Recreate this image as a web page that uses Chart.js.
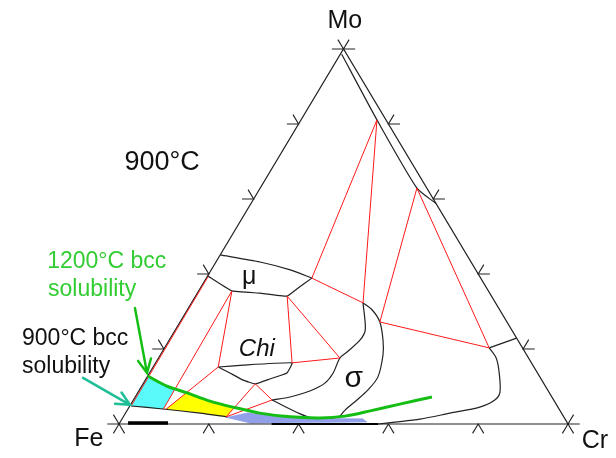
<!DOCTYPE html>
<html>
<head>
<meta charset="utf-8">
<script src="https://cdn.jsdelivr.net/npm/chart.js@4.4.1/dist/chart.umd.min.js"></script>
<style>
  body { margin: 0; background: #fff; overflow: hidden; }
  #wrap { width: 616px; height: 458px; }
</style>
</head>
<body>
<div id="wrap"><canvas id="diagramme"></canvas></div>
<script>
// all compositions are at.% [Cr, Mo], Fe is the balance
const tickValues = [0, 20, 40, 60, 80, 100];

// black phase boundaries
const bccMoCr = [[0.3, 98.6], [16.9, 81.1], [34.9, 62.9], [41.2, 58.8]];
const muTop = [[0, 45.1], [9.8, 43.2], [17.6, 41.1], [23.5, 38.9]];
const muBottom = [[0, 39.5], [7.4, 35.5], [13.9, 34.9], [20.4, 34.1], [21.6, 36.0], [23.5, 38.9]];
const chiOutline = [[14.5, 15.2], [19.8, 15.7], [30.4, 16.3], [30.6, 13.6], [27.6, 12.0], [25.0, 10.7], [21.8, 11.7], [17.9, 13.6], [14.5, 15.2]];
const sigmaInner = [[38.2, 32.3], [42.3, 25.1], [42.5, 22.4], [41.2, 19.2], [40.4, 17.6], [40.9, 13.6], [40.4, 10.9], [38.1, 8.8], [34.5, 7.2], [30.9, 6.4]];
const sigmaFoot = [[30.9, 6.4], [39.0, 2.7], [42.2, 1.6], [46.9, 1.6], [48.2, 2.1]];
const sigmaOuter = [[38.2, 32.3], [41.2, 30.4], [44.5, 27.2], [47.6, 22.4], [49.6, 18.4], [51.4, 12.5], [50.9, 9.1], [49.8, 6.4], [48.5, 3.7], [48.2, 2.1]];
const bccCrCap = [[77.1, 22.9], [72.3, 20.3]];
const bccCr = [[72.3, 20.3], [75.2, 17.6], [77.7, 13.9], [80.6, 8.5], [80.5, 6.4], [78.1, 4.5], [72.3, 2.9], [66.4, 1.3], [61.2, 0.5], [57.7, 0]];
const bcc900 = [[0.3, 4.8], [7.8, 4.0], [16.6, 2.9], [23.1, 1.9]];
const feBinary = [[1.9, 0.25], [10.8, 0.25]];
const sigmaBinary = [[34.0, 0], [57.7, 0]];

// red tie lines
const tieLines = [
  [[16.9, 81.1], [23.5, 38.9]],
  [[16.9, 81.1], [38.2, 32.3]],
  [[23.5, 38.9], [38.2, 32.3]],
  [[34.9, 62.9], [44.5, 27.2]],
  [[34.9, 62.9], [72.3, 20.3]],
  [[44.5, 27.2], [72.3, 20.3]],
  [[7.4, 35.5], [14.5, 15.2]],
  [[20.4, 34.1], [30.4, 16.3]],
  [[20.4, 34.1], [40.4, 17.6]],
  [[30.4, 16.3], [40.4, 17.6]],
  [[0.2, 39.3], [0.3, 4.8]],
  [[7.4, 35.5], [7.9, 3.9]],
  [[14.5, 15.2], [8.5, 3.9]],
  [[25.0, 10.7], [22.9, 1.9]],
  [[25.0, 10.7], [30.9, 6.4]],
  [[22.9, 1.9], [30.9, 6.4]]
];

// 1200°C bcc solubility
const bcc1200 = [[0, 12.8], [5.6, 10.1], [11.0, 8.3], [17.2, 6.1], [23.1, 4.5], [29.9, 2.9], [37.2, 1.9], [44.0, 1.6], [49.3, 2.1], [54.2, 3.5], [59.9, 5.3], [66.1, 7.2]];

// coloured areas
const cyanArea = [[0.3, 4.8], [0, 12.8], [3.0, 11.4], [5.6, 10.1], [7.8, 9.3], [7.9, 3.9]];
const yellowArea = [[8.5, 3.9], [11.1, 8.5], [14.0, 7.3], [17.2, 6.1], [20.3, 5.3], [23.5, 4.3], [22.9, 1.9], [16.6, 2.9]];
const blueArea = [[22.8, 1.7], [27.2, 3.0], [34.3, 2.2], [44.2, 1.5], [53.6, 1.4], [55.0, 0.5], [29.0, 0.2]];

// composition -> plot point (x = Cr + Mo/2, y = Mo)
function pt(c) {
  return { x: c[0] + c[1] / 2, y: c[1] };
}
function toPts(list) {
  return list.map(pt);
}

// the ternary frame and its ticks
const frame = toPts([[0, 0], [100, 0], [0, 100], [0, 0]]);
const ticks = [];
const gap = { x: NaN, y: NaN };
for (let k of tickValues) {
  // bottom (Fe-Cr)
  ticks.push(pt([k, -2.5]), pt([k, 0]), pt([k + 2.5, -2.5]), gap);
  // left (Fe-Mo)
  ticks.push(pt([-2.6, k]), pt([0, k]), pt([-2.5, k + 2.5]), gap);
  // right (Mo-Cr)
  ticks.push(pt([102.6 - k, k]), pt([100 - k, k]), pt([100 - k, k + 2.5]), gap);
}

const tiePts = [];
for (let t of tieLines) {
  tiePts.push(pt(t[0]), pt(t[1]), gap);
}

function ligne(data, color, width, order, tension) {
  return {
    data: data,
    borderColor: color,
    borderWidth: width,
    pointRadius: 0,
    fill: false,
    tension: tension || 0,
    order: order
  };
}
function zone(list, color) {
  return {
    data: toPts(list),
    borderColor: color,
    borderWidth: 0.5,
    backgroundColor: color,
    pointRadius: 0,
    fill: "shape",
    order: 20
  };
}

const black = "#222";
const red = "rgb(255,25,25)";
const green = "rgb(20,190,20)";

const datasets = [
  ligne(toPts(bcc1200), green, 3, 1, 0.3),
  ligne(tiePts, red, 1, 3),
  ligne(frame, black, 1.2, 5),
  ligne(ticks, black, 1.1, 5),
  ligne(toPts(bccMoCr), black, 1.2, 5, 0.2),
  ligne(toPts(muTop), black, 1.2, 5, 0.2),
  ligne(toPts(muBottom), black, 1.2, 5, 0.1),
  ligne(toPts(chiOutline), black, 1.2, 5, 0.1),
  ligne(toPts(sigmaInner), black, 1.2, 5, 0.3),
  ligne(toPts(sigmaFoot), black, 1.2, 5, 0.3),
  ligne(toPts(sigmaOuter), black, 1.2, 5, 0.3),
  ligne(toPts(bccCrCap), black, 1.2, 5),
  ligne(toPts(bccCr), black, 1.2, 5, 0.3),
  ligne(toPts(bcc900), black, 1.2, 5, 0.2),
  ligne(toPts(feBinary), "#000", 3.5, 4),
  ligne(toPts(sigmaBinary), "#000", 2.2, 4),
  zone(cyanArea, "rgb(90,250,250)"),
  zone(yellowArea, "rgb(255,255,0)"),
  zone(blueArea, "rgb(145,160,232)")
];

// labels and arrows, in plot units
const labels = [
  { text: "Mo", x: 50.3, y: 107.5, font: "25px Arial", color: "#111", align: "center", base: "middle" },
  { text: "Fe", x: -6.7, y: -4.0, font: "25px Arial", color: "#111", align: "center", base: "middle" },
  { text: "Cr", x: 106.0, y: -4.5, font: "25px Arial", color: "#111", align: "center", base: "middle" },
  { text: "900°C", x: 9.6, y: 69.6, font: "27px Arial", color: "#111", align: "center", base: "middle" },
  { text: "1200°C bcc", x: -16.0, y: 43.2, font: "23px Arial", color: "rgb(50,205,50)", align: "left", base: "middle" },
  { text: "solubility", x: -15.8, y: 35.7, font: "23px Arial", color: "rgb(50,205,50)", align: "left", base: "middle" },
  { text: "900°C bcc", x: -21.6, y: 22.7, font: "23px Arial", color: "#111", align: "left", base: "middle" },
  { text: "solubility", x: -21.6, y: 15.2, font: "23px Arial", color: "#111", align: "left", base: "middle" },
  { text: "μ", x: 29.0, y: 37.3, font: "25px Arial", color: "#111", align: "center", base: "alphabetic" },
  { text: "Chi", x: 30.7, y: 18.1, font: "italic 24px Arial", color: "#111", align: "center", base: "alphabetic" },
  { text: "σ", x: 52.3, y: 9.9, font: "30px Arial", color: "#111", align: "center", base: "alphabetic" }
];
const arrows = [
  { from: [3.56, 30.9], to: [6.24, 13.6], color: green },
  { from: [-8.0, 12.3], to: [2.45, 5.1], color: "rgb(30,190,150)" }
];

const annotations = {
  id: "annotations",
  afterDatasetsDraw(chart) {
    const ctx = chart.ctx;
    const sx = chart.scales.x;
    const sy = chart.scales.y;
    ctx.save();
    for (let a of arrows) {
      const x1 = sx.getPixelForValue(a.from[0]), y1 = sy.getPixelForValue(a.from[1]);
      const x2 = sx.getPixelForValue(a.to[0]), y2 = sy.getPixelForValue(a.to[1]);
      const ang = Math.atan2(y2 - y1, x2 - x1);
      ctx.strokeStyle = a.color;
      ctx.lineWidth = 2.5;
      ctx.lineCap = "round";
      ctx.beginPath();
      ctx.moveTo(x1, y1);
      ctx.lineTo(x2, y2);
      ctx.moveTo(x2 - 15 * Math.cos(ang - 0.45), y2 - 15 * Math.sin(ang - 0.45));
      ctx.lineTo(x2, y2);
      ctx.lineTo(x2 - 15 * Math.cos(ang + 0.45), y2 - 15 * Math.sin(ang + 0.45));
      ctx.stroke();
    }
    for (let l of labels) {
      ctx.font = l.font;
      ctx.fillStyle = l.color;
      ctx.textAlign = l.align;
      ctx.textBaseline = l.base;
      ctx.fillText(l.text, sx.getPixelForValue(l.x), sy.getPixelForValue(l.y));
    }
    ctx.restore();
  }
};

new Chart(document.querySelector("#diagramme"), {
  type: "line",
  data: { datasets: datasets },
  options: {
    responsive: true,
    maintainAspectRatio: false,
    animation: false,
    spanGaps: false,
    layout: { padding: 0 },
    plugins: { legend: { display: false }, tooltip: { enabled: false } },
    scales: {
      x: { type: "linear", min: -26.5, max: 110.69, display: false },
      y: { type: "linear", min: -9.07, max: 113.07, display: false }
    }
  },
  plugins: [annotations]
});
</script>
</body>
</html>
